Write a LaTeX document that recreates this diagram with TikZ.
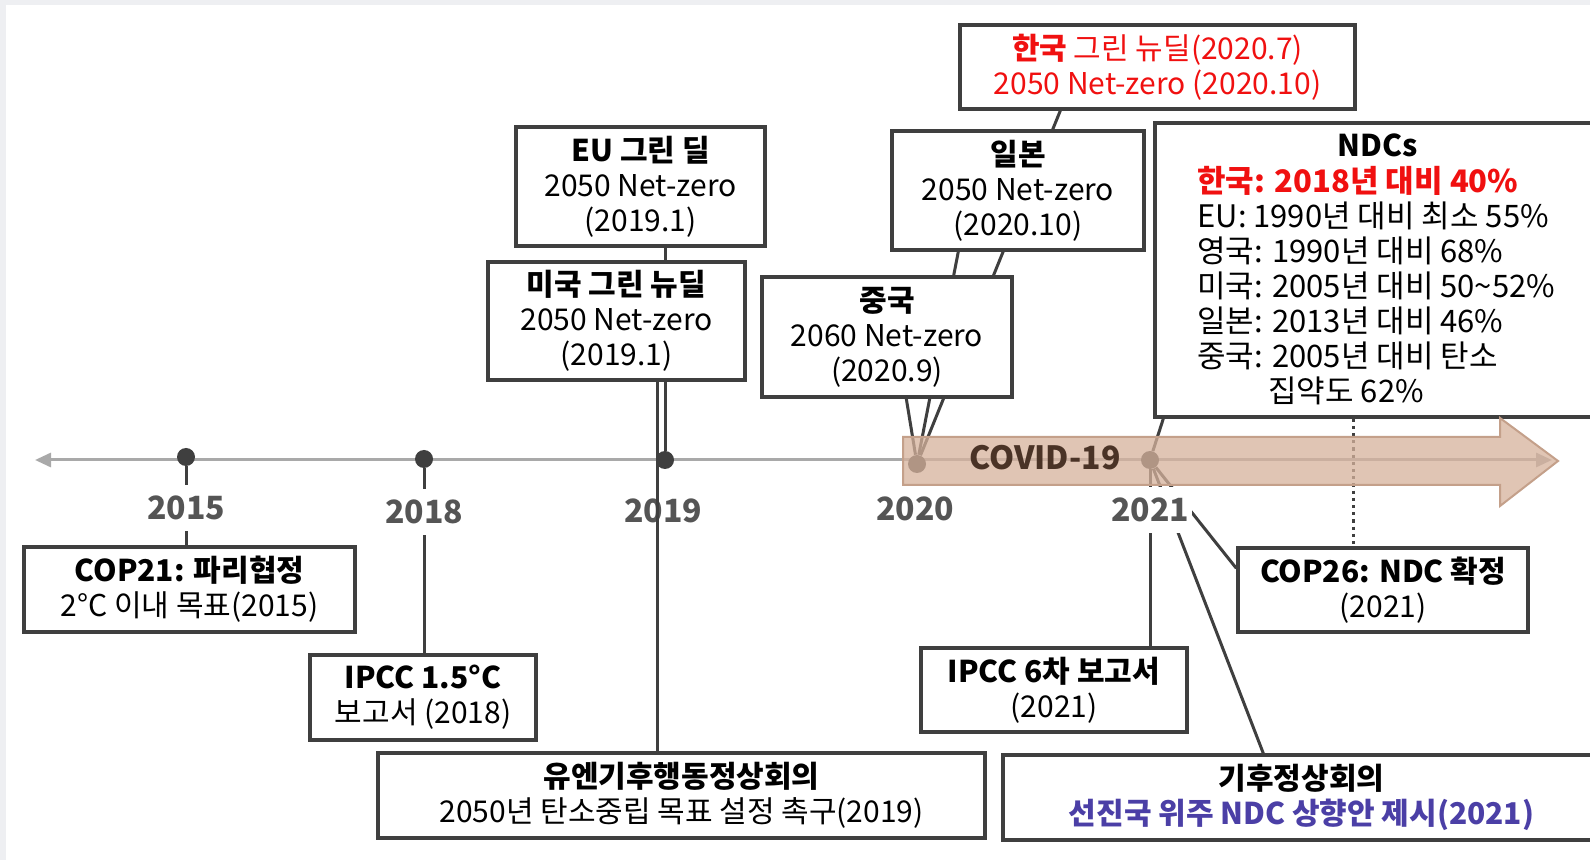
\documentclass[tikz,border=0pt]{standalone}
\usepackage{fontspec}
\setmainfont{Noto Sans CJK KR}
\usetikzlibrary{arrows.meta,backgrounds,positioning}
\definecolor{edgegray}{HTML}{3F3F3F}
\definecolor{axisgray}{HTML}{A9A9A9}
\definecolor{yeargray}{HTML}{555555}
\definecolor{covidfill}{HTML}{D6B29C}
\definecolor{covidline}{HTML}{C4A08A}
\definecolor{covidtext}{HTML}{4A3326}
\definecolor{krred}{HTML}{F01010}
\definecolor{summitblue}{HTML}{4B3FA6}
\definecolor{bggray}{HTML}{EEEFF2}

\begin{document}
\begin{tikzpicture}[x=0.5pt,y=-0.5pt,
    box/.style={draw=edgegray,line width=1.7pt,fill=white,align=center,inner sep=0pt,font=\fontsize{15}{17.5}\selectfont},
    link/.style={draw=edgegray,line width=1.5pt},
    yr/.style={fill=white,text=yeargray,font=\fontsize{16}{16}\selectfont\bfseries,inner xsep=1.5pt,minimum height=23pt},
    dot/.style={circle,fill=edgegray,inner sep=0pt,minimum size=9pt}]
    \useasboundingbox (0,0) rectangle (1590,860);
    \begin{scope}[on background layer]
        \fill[bggray] (0,0) rectangle (1590,860);
        \fill[white] (6,5) rectangle (1590,860);
    \end{scope}

    \draw[axisgray,line width=1.5pt,{Triangle[length=8pt,width=7pt]}-{Triangle[length=8pt,width=7pt]}] (35,460) -- (1552,460);
    \node[dot] (d15) at (186,457) {};
    \node[dot] (d18) at (424,459) {};
    \node[dot] (d19) at (665,460) {};
    \node[dot] (d20) at (917,464) {};
    \node[dot] (d21) at (1150,460) {};
    \coordinate (u19) at (657,460);

    \node[box,minimum width=165.5pt,minimum height=42.5pt] (cop21) at (189.5,589.5) {\textbf{COP21: 파리협정}\\2°C 이내 목표(2015)};
    \node[box,minimum width=113pt,minimum height=42.5pt] (ipcc15) at (423,697.5) {\textbf{IPCC 1.5°C}\\보고서 (2018)};
    \node[box,minimum width=303.5pt,minimum height=42.5pt] (un) at (681.5,795.5) {\textbf{유엔기후행동정상회의}\\2050년 탄소중립 목표 설정 촉구(2019)};
    \node[box,line width=2.3pt,minimum width=124.5pt,minimum height=59.5pt] (eu) at (640.5,186.5) {\textbf{EU 그린 딜}\\2050 Net-zero\\(2019.1)};
    \node[box,minimum width=128.5pt,minimum height=59pt] (usa) at (616.5,321) {\textbf{미국 그린 뉴딜}\\2050 Net-zero\\(2019.1)};
    \node[box,minimum width=125pt,minimum height=60pt] (china) at (887,337) {\textbf{중국}\\2060 Net-zero\\(2020.9)};
    \node[box,minimum width=126pt,minimum height=59.5pt] (japan) at (1018,190.5) {\textbf{일본}\\2050 Net-zero\\(2020.10)};
    \node[box,text=krred,minimum width=197.5pt,minimum height=42pt] (korea) at (1157.5,67) {\textbf{한국} 그린 뉴딜(2020.7)\\2050 Net-zero (2020.10)};
    \node[box,minimum width=222.5pt,minimum height=147pt] (ndc) at (1377.5,270) {};
    \node[below=6pt of ndc.north,inner sep=0pt,font=\fontsize{15}{17.5}\selectfont\bfseries] (ndct) {NDCs};
    \node[anchor=north west,align=left,inner sep=0pt,font=\fontsize{15.5}{17.5}\selectfont] (ndcl) at (1197,166) {\textcolor{krred}{\textbf{한국: 2018년 대비 40\%}}\\EU: 1990년 대비 최소 55\%\\영국: 1990년 대비 68\%\\미국: 2005년 대비 50\textasciitilde52\%\\일본: 2013년 대비 46\%\\중국: 2005년 대비 탄소\\\hspace*{35.5pt}집약도 62\%};
    \node[box,minimum width=145pt,minimum height=42pt] (cop26) at (1383,590) {\textbf{COP26: NDC 확정}\\(2021)};
    \node[box,minimum width=133pt,minimum height=42pt] (ipcc6) at (1054,690) {\textbf{IPCC 6차 보고서}\\(2021)};
    \node[box,minimum width=298.5pt,minimum height=42.5pt] (summit) at (1301.5,797.5) {\textbf{기후정상회의}\\\textcolor{summitblue}{\textbf{선진국 위주 NDC 상향안 제시(2021)}}};

    \begin{scope}[on background layer]
        \path[link] (d15) edge (d15 |- cop21.north)
            (d18) edge (d18 |- ipcc15.north)
            (d19) edge (d19 |- eu.south)
            (d20) edge ([xshift=51pt]korea.south west)
                  edge ([xshift=34pt]japan.south west)
                  edge ([xshift=73pt]china.south west)
            (d21) edge ([xshift=5pt]ndc.south west)
                  edge (d21 |- ipcc6.north)
                  edge ([xshift=131pt]summit.north west)
                  edge ([yshift=-11pt]cop26.north west);
        \draw[link,dash pattern=on 1.6pt off 2pt] ([xshift=100pt]ndc.south west) -- ([xshift=100pt]ndc.south west |- cop26.north);
    \end{scope}

    \node[yr] (y15) at (186,508) {2015};
    \node[yr] (y18) at (424,512) {2018};
    \node[yr] (y19) at (663,511) {2019};
    \node[yr] (y20) at (915,509) {2020};
    \node[yr] (y21) at (1150,510) {2021};
    \draw[link] (u19 |- usa.south) -- (u19 |- un.north);

    \draw[covidline,fill=covidfill,fill opacity=0.75,line width=1pt] (903,437) -- (1500,437) -- (1500,418) -- (1558,461) -- (1500,506) -- (1500,485) -- (903,485) -- cycle;
    \node[text=covidtext,font=\fontsize{16}{16}\selectfont\bfseries] (covid) at (1045,458) {COVID-19};
\end{tikzpicture}
\end{document}
